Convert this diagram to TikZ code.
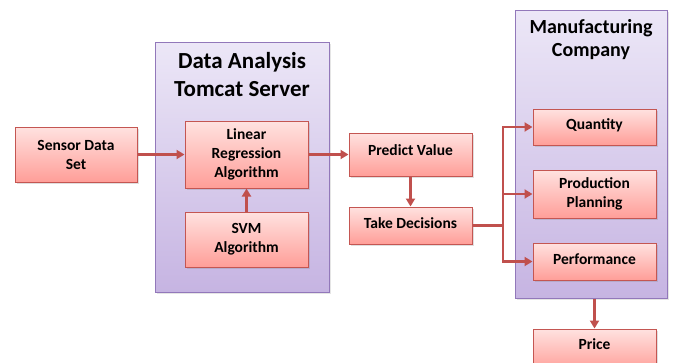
\documentclass[tikz,border=0pt]{standalone}
\usepackage{fontspec}
\setmainfont{Carlito}
\usetikzlibrary{arrows.meta,shadows}
\definecolor{boxtop}{RGB}{255,226,224}
\definecolor{boxbot}{RGB}{255,158,152}
\definecolor{boxline}{RGB}{196,86,82}
\definecolor{contop}{RGB}{236,231,247}
\definecolor{conbot}{RGB}{198,180,226}
\definecolor{conline}{RGB}{146,120,186}
\definecolor{arr}{RGB}{192,80,77}
\tikzset{
  box/.style={draw=boxline, line width=1pt, shading=axis, top color=boxtop, bottom color=boxbot,
    minimum width=123pt, inner sep=0pt, align=center, font=\bfseries\fontsize{15.5}{19}\selectfont,
    drop shadow={opacity=0.25, shadow xshift=1.5pt, shadow yshift=-1.5pt}},
  container/.style={draw=conline, line width=1pt, shading=axis, top color=contop, bottom color=conbot,
    inner sep=0pt, drop shadow={opacity=0.2, shadow xshift=1.5pt, shadow yshift=-1.5pt}},
  title/.style={align=center, inner sep=0pt},
  flow/.style={draw=arr, line width=2.6pt, -{Triangle[length=8pt,width=9pt]}},
  trunk/.style={draw=arr, line width=2.6pt}
}
\begin{document}
\begin{tikzpicture}[x=1pt,y=-1pt]
\clip (0,0) rectangle (674,362);
\fill[white] (0,0) rectangle (674,362);
% containers
\node[container, minimum width=174pt, minimum height=250pt] (da) at (242,167) {};
\node[container, minimum width=152pt, minimum height=288pt] (mc) at (591,154) {};
\node[title, font=\bfseries\fontsize{23}{28}\selectfont] (dat) at (242,75) {Data Analysis\\Tomcat Server};
\node[title, font=\bfseries\fontsize{20}{23}\selectfont] (mct) at (591,40) {Manufacturing\\Company};
% boxes
\node[box, minimum width=122pt, minimum height=55pt] (sensor) at (76,154.5) {Sensor Data\\Set};
\node[box, minimum height=67pt] (lr) at (246.5,154.5) {Linear\\Regression\\Algorithm};
\node[box, minimum height=55pt] (svm) at (246.5,239.5) {SVM\\Algorithm};
\node[box, minimum height=43pt] (pv) at (410.5,154.5) {\raisebox{8pt}{Predict Value}};
\node[box, minimum height=37pt] (td) at (410.5,225.5) {\raisebox{5pt}{Take Decisions}};
\node[box, minimum height=36pt] (q) at (594.5,127) {\raisebox{5pt}{Quantity}};
\node[box, minimum height=48pt] (pp) at (594.5,194) {Production\\Planning};
\node[box, minimum height=37pt] (perf) at (594.5,261.5) {\raisebox{5pt}{Performance}};
\node[box, minimum height=42pt] (price) at (594.5,350) {\raisebox{12pt}{Price}};
% connectors
\coordinate (split) at (503,225.5);
\draw[flow] (sensor.east) -- (lr.west);
\draw[flow] (svm.north) -- (lr.south);
\draw[flow] (lr.east) -- (pv.west);
\draw[flow] (pv.south) -- (td.north);
\draw[trunk] (td.east) -- (split);
\draw[flow] (split) |- (q.west);
\draw[flow] (split) |- (pp.west);
\draw[flow] (split) |- (perf.west);
\draw[flow] (mc.south -| price.north) -- (price.north);
\end{tikzpicture}
\end{document}
